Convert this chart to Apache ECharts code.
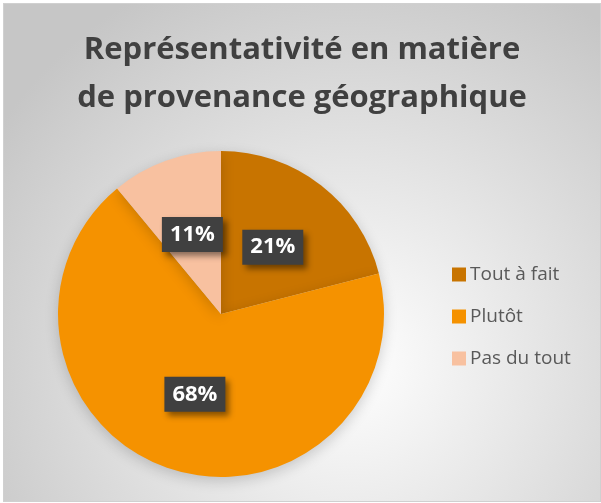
<!DOCTYPE html>
<html>
<head>
<meta charset="utf-8">
<script src="https://cdn.jsdelivr.net/npm/echarts@6/dist/echarts.min.js"></script>
<style>
  html, body { margin: 0; padding: 0; background: #fff; }
  #chart {
    position: absolute;
    left: 3px;
    top: 3px;
    width: 596px;
    height: 497px;
    border: 1px solid #d0d0d0;
  }
</style>
</head>
<body>
<div id="chart"></div>
<script>
// 数据
const categories = ['Tout à fait', 'Plutôt', 'Pas du tout']
const values = [21, 68, 11]
const colors = ['#C87400', '#F59200', '#F8C1A0']

const chart = echarts.init(document.getElementById('chart'))

const pieData = categories.map((name, i) => ({
  name: name,
  value: values[i],
  itemStyle: { color: colors[i] }
}))

chart.setOption({
  animation: false,
  backgroundColor: {
    type: 'radial',
    x: 0.58,
    y: 0.72,
    r: 0.85,
    colorStops: [
      { offset: 0, color: '#ffffff' },
      { offset: 1, color: '#c6c6c6' }
    ]
  },
  title: {
    text: 'Représentativité en matière\nde provenance géographique',
    left: 'center',
    top: 17,
    textStyle: {
      fontFamily: 'Open Sans',
      fontWeight: 'bold',
      fontSize: 31,
      lineHeight: 48,
      color: '#404040'
    }
  },
  legend: {
    orient: 'vertical',
    left: 443,
    top: 256,
    itemGap: 23,
    itemWidth: 14,
    itemHeight: 14,
    icon: 'rect',
    data: categories,
    textStyle: {
      fontFamily: 'Open Sans',
      fontSize: 19,
      color: '#595959',
      padding: [0, 0, 0, -1]
    }
  },
  series: [
    {
      type: 'pie',
      center: [217, 310],
      radius: 163,
      startAngle: 90,
      clockwise: true,
      data: pieData,
      itemStyle: {
        shadowBlur: 14,
        shadowColor: 'rgba(0,0,0,0.18)',
        shadowOffsetY: 4
      },
      emphasis: { disabled: true },
      label: {
        show: true,
        position: 'inside',
        formatter: '{d}%',
        fontFamily: 'Open Sans',
        fontWeight: 'bold',
        fontSize: 22,
        color: '#ffffff',
        backgroundColor: '#404040',
        padding: [8, 8, 5, 8],
        shadowBlur: 6,
        shadowColor: 'rgba(0,0,0,0.45)',
        shadowOffsetX: 4,
        shadowOffsetY: 4
      },
      labelLine: { show: false }
    }
  ]
})

window.addEventListener('resize', function () {
  chart.resize()
})
</script>
</body>
</html>
